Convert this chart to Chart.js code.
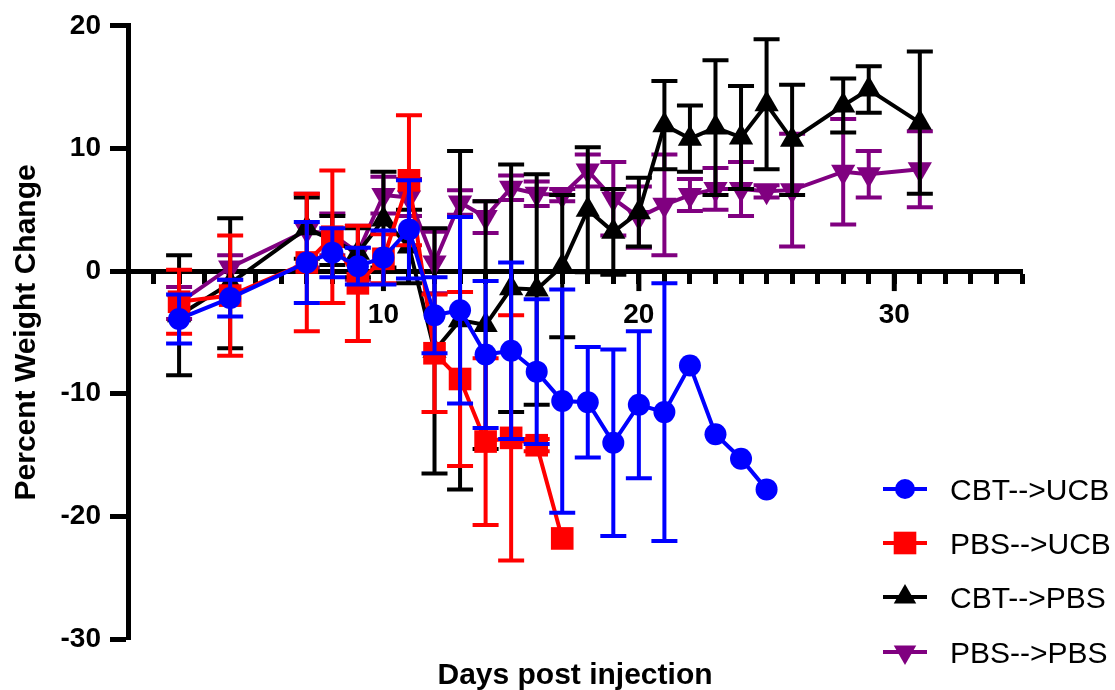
<!DOCTYPE html>
<html><head><meta charset="utf-8">
<script src="https://cdn.jsdelivr.net/npm/chart.js@4.4.1/dist/chart.umd.min.js"></script>
<style>html,body{margin:0;padding:0;background:#fff;}#wrap{width:1115px;height:690px;position:relative;}</style>
</head><body><div id="wrap"><canvas id="c" width="1115" height="690"></canvas></div>
<script>
// ---------- data ----------
const seriesNames = ['CBT-->UCB', 'PBS-->UCB', 'CBT-->PBS', 'PBS-->PBS'];
const xTitle = 'Days post injection';
const yTitle = 'Percent Weight Change';
const xTickLabels = [10, 20, 30];

const cbtUcbDays = [2, 4, 7, 8, 9, 10, 11, 12, 13, 14, 15, 16, 17, 18, 19, 20, 21, 22, 23, 24, 25];
const cbtUcbMean = [-3.9, -2.2, 0.7, 1.5, 0.4, 1.1, 3.4, -3.6, -3.2, -6.8, -6.5, -8.2, -10.6, -10.7, -14.0, -10.9, -11.5, -7.7, -13.3, -15.3, -17.8];
const cbtUcbErr  = [2.0, 1.5, 3.3, 2.0, 1.5, 2.2, 4.0, 3.1, 7.6, 6.0, 7.2, 5.9, 9.1, 4.5, 7.6, 6.0, 10.5, 0, 0, 0, 0];

const pbsUcbDays = [2, 4, 7, 8, 9, 10, 11, 12, 13, 14, 15, 16, 17];
const pbsUcbMean = [-2.5, -2.0, 0.7, 2.8, -1.0, 1.0, 7.4, -6.7, -8.8, -13.9, -13.6, -14.2, -21.8];
const pbsUcbErr  = [2.6, 4.9, 5.6, 5.4, 4.7, 2.0, 5.3, 4.8, 7.1, 6.8, 10.0, 0.5, 0];

const cbtPbsDays = [2, 4, 7, 8, 9, 10, 11, 12, 13, 14, 15, 16, 17, 18, 19, 20, 21, 22, 23, 24, 25, 26, 28, 29, 31];
const cbtPbsMean = [-3.6, -1.0, 3.5, 2.5, 1.5, 4.2, 2.0, -6.5, -4.0, -4.4, -1.4, -1.5, 0.4, 5.0, 3.2, 4.8, 11.9, 10.8, 11.7, 10.9, 13.6, 10.7, 13.5, 14.8, 12.1];
const cbtPbsErr  = [4.9, 5.3, 2.5, 2.0, 2.0, 3.9, 3.0, 10.0, 13.8, 10.1, 10.1, 9.4, 5.8, 5.1, 3.5, 2.8, 3.6, 2.7, 5.5, 4.2, 5.3, 4.5, 2.2, 1.9, 5.8];

const pbsPbsDays = [2, 4, 7, 8, 9, 10, 11, 12, 13, 14, 15, 16, 17, 18, 19, 20, 21, 22, 23, 24, 25, 26, 28, 29, 31];
const pbsPbsMean = [-2.6, 0.3, 3.3, 3.0, 1.5, 6.2, 6.0, 0.7, 5.6, 4.4, 6.8, 6.3, 6.2, 8.2, 5.9, 4.4, 5.4, 6.2, 6.7, 6.7, 6.5, 6.6, 8.1, 7.9, 8.3];
const pbsPbsErr  = [1.3, 1.0, 3.0, 1.7, 2.2, 1.5, 1.5, 2.5, 1.0, 1.3, 1.0, 1.0, 0.5, 1.3, 3.0, 2.5, 4.1, 1.3, 1.7, 2.2, 0.5, 4.6, 4.3, 1.9, 3.1];

// ---------- styles ----------
const FONT = '"Liberation Sans", Arial, Helvetica, sans-serif';
const styles = [
  {color: '#0000FF', pointStyle: 'circle', radius: 11, rotation: 0},
  {color: '#FF0000', pointStyle: 'rect', radius: 16, rotation: 0},
  {color: '#000000', pointStyle: 'triangle', radius: 14, rotation: 0},
  {color: '#800080', pointStyle: 'triangle', radius: 14, rotation: 180}
];
const series = [
  [cbtUcbDays, cbtUcbMean, cbtUcbErr],
  [pbsUcbDays, pbsUcbMean, pbsUcbErr],
  [cbtPbsDays, cbtPbsMean, cbtPbsErr],
  [pbsPbsDays, pbsPbsMean, pbsPbsErr]
];

const datasets = series.map((s, k) => ({
  label: seriesNames[k],
  data: s[0].map((d, i) => ({x: d, y: s[1][i]})),
  errors: s[2],
  borderColor: styles[k].color,
  backgroundColor: styles[k].color,
  borderWidth: 4,
  pointStyle: styles[k].pointStyle,
  pointRadius: styles[k].radius,
  pointRotation: styles[k].rotation,
  pointBorderWidth: 0,
  pointBackgroundColor: styles[k].color,
  tension: 0,
  clip: false
}));

const errorBars = {
  id: 'errorBars',
  beforeDatasetDraw(chart, args) {
    const ds = chart.data.datasets[args.index];
    const xs = chart.scales.x, ys = chart.scales.y, ctx = chart.ctx;
    ctx.save();
    ctx.strokeStyle = ds.borderColor;
    ctx.lineWidth = 4;
    ctx.lineCap = 'butt';
    ds.data.forEach((p, i) => {
      const e = ds.errors[i];
      if (!e) return;
      const px = xs.getPixelForValue(p.x);
      const t = ys.getPixelForValue(p.y + e);
      const b = ys.getPixelForValue(p.y - e);
      ctx.beginPath();
      ctx.moveTo(px, t); ctx.lineTo(px, b);
      ctx.moveTo(px - 13, t); ctx.lineTo(px + 13, t);
      ctx.moveTo(px - 13, b); ctx.lineTo(px + 13, b);
      ctx.stroke();
    });
    ctx.restore();
  }
};

function drawMarker(ctx, st, x, y, r) {
  ctx.beginPath();
  if (st.pointStyle === 'circle') {
    ctx.arc(x, y, r, 0, Math.PI * 2);
  } else if (st.pointStyle === 'rect') {
    const h = r * Math.SQRT1_2;
    ctx.rect(x - h, y - h, 2 * h, 2 * h);
  } else {
    let rad = st.rotation * Math.PI / 180;
    for (let j = 0; j < 3; j++) {
      const px = x + Math.sin(rad) * r, py = y - Math.cos(rad) * r;
      if (j === 0) ctx.moveTo(px, py); else ctx.lineTo(px, py);
      rad += 2 * Math.PI / 3;
    }
    ctx.closePath();
  }
  ctx.fillStyle = st.color;
  ctx.fill();
}

const extras = {
  id: 'extras',
  beforeDatasetsDraw(chart) {
    const xs = chart.scales.x, ys = chart.scales.y, ctx = chart.ctx;
    const y0 = ys.getPixelForValue(0);
    ctx.save();
    ctx.strokeStyle = '#000';
    ctx.lineWidth = 5;
    xTickLabels.forEach(v => {
      const px = xs.getPixelForValue(v);
      ctx.beginPath();
      ctx.moveTo(px, y0); ctx.lineTo(px, y0 + 20);
      ctx.stroke();
    });
    ctx.restore();
  },
  afterDraw(chart) {
    const ctx = chart.ctx, ca = chart.chartArea;
    ctx.save();
    ctx.fillStyle = '#000';
    ctx.font = 'bold 30px ' + FONT;
    ctx.textAlign = 'center';
    ctx.textBaseline = 'alphabetic';
    ctx.fillText(xTitle, (ca.left + ca.right) / 2, 684);
    const rows = [489, 543, 597, 652];
    chart.data.datasets.forEach((ds, k) => {
      const y = rows[k];
      ctx.strokeStyle = styles[k].color;
      ctx.lineWidth = 4;
      ctx.beginPath();
      ctx.moveTo(883, y); ctx.lineTo(927, y);
      ctx.stroke();
      drawMarker(ctx, styles[k], 905, y, styles[k].pointStyle === 'rect' ? 16 : (styles[k].pointStyle === 'circle' ? 10 : 13));
      ctx.fillStyle = '#000';
      ctx.font = '30px ' + FONT;
      ctx.textAlign = 'left';
      ctx.fillText(ds.label, 950, y + 11);
    });
    ctx.restore();
  }
};

new Chart(document.getElementById('c'), {
  type: 'line',
  data: {datasets},
  options: {
    responsive: false,
    animation: false,
    layout: {padding: {left: 0, top: 23, right: 93, bottom: 51}},
    plugins: {legend: {display: false}, tooltip: {enabled: false}},
    scales: {
      x: {
        type: 'linear',
        min: 0, max: 35,
        position: {y: 0},
        grid: {display: true, drawOnChartArea: false, drawTicks: true, tickLength: 10, tickWidth: 5, color: '#000'},
        border: {display: true, width: 5, color: '#000'},
        ticks: {
          stepSize: 1, autoSkip: false, maxRotation: 0, color: '#000', padding: 17,
          font: {family: FONT, size: 28, weight: 'bold'},
          callback: v => (xTickLabels.includes(v) ? String(v) : '')
        }
      },
      y: {
        type: 'linear',
        min: -30, max: 20,
        grid: {display: true, drawOnChartArea: false, drawTicks: true, tickLength: 18, tickWidth: 5, color: '#000'},
        border: {display: true, width: 5, color: '#000'},
        ticks: {stepSize: 10, color: '#000', padding: 9, font: {family: FONT, size: 28, weight: 'bold'}},
        title: {display: true, text: yTitle, color: '#000', padding: {top: 9, bottom: 0}, font: {family: FONT, size: 30, weight: 'bold'}},
        afterFit(scale) { scale.width = 128; }
      }
    }
  },
  plugins: [errorBars, extras]
});
</script>
</body></html>
